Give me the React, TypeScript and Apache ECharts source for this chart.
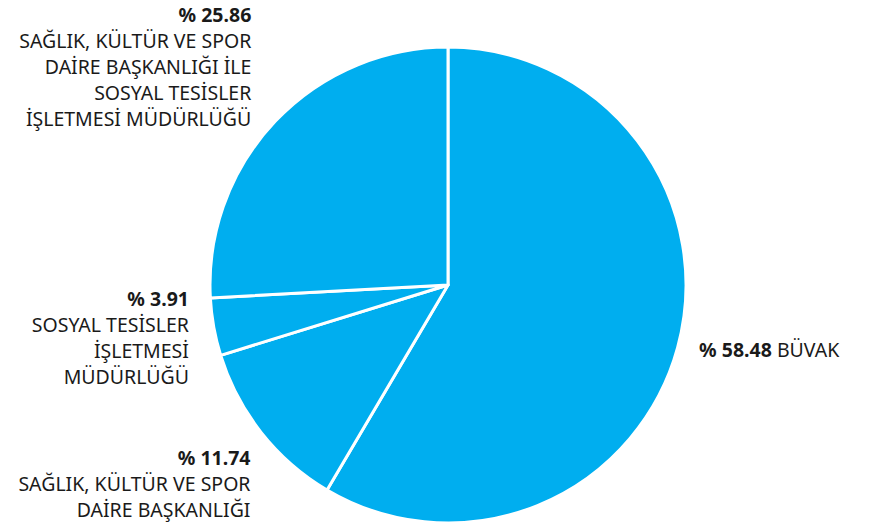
import React, { useEffect, useRef } from "react";
import * as echarts from "echarts";

const names = [
  "BÜVAK",
  "SAĞLIK, KÜLTÜR VE SPOR\nDAİRE BAŞKANLIĞI",
  "SOSYAL TESİSLER\nİŞLETMESİ\nMÜDÜRLÜĞÜ",
  "SAĞLIK, KÜLTÜR VE SPOR\nDAİRE BAŞKANLIĞI İLE\nSOSYAL TESİSLER\nİŞLETMESİ MÜDÜRLÜĞÜ",
];
const values = [58.48, 11.74, 3.91, 25.86];
const labelOffsets = [
  [-28, -2],
  [36, 42],
  [25, 8],
  [22, -45],
];

export default function App() {
  const ref = useRef<HTMLDivElement>(null);
  useEffect(() => {
    const chart = echarts.init(ref.current!, null, { renderer: "svg" });
    const font = "'Noto Sans', sans-serif";
    chart.setOption({
      animation: false,
      backgroundColor: "#ffffff",
      series: [
        {
          type: "pie",
          center: [448, 285],
          radius: 238,
          startAngle: 90,
          clockwise: true,
          data: names.map((n, i) => ({
            name: n,
            value: values[i],
            label:
              i === 0
                ? { formatter: (p: any) => `{b|% ${p.value.toFixed(2)}} {n|${p.name}}`, align: "left" }
                : {
                    formatter: (p: any) =>
                      `{b|% ${p.value.toFixed(2)}}\n` +
                      p.name
                        .split("\n")
                        .map((s: string) => `{n|${s}}`)
                        .join("\n"),
                    align: "right",
                  },
          })),
          itemStyle: { color: "#00aeef", borderColor: "#ffffff", borderWidth: 3 },
          label: {
            show: true,
            position: "outside",
            overflow: "none",
            fontFamily: font,
            fontSize: 19.5,
            lineHeight: 26,
            color: "#1a1a1a",
            rich: {
              b: { fontWeight: "bold", fontSize: 19.5, color: "#1a1a1a", lineHeight: 26, fontFamily: font },
              n: { fontSize: 19.5, color: "#1a1a1a", lineHeight: 26, fontFamily: font },
            },
          },
          labelLine: { show: false },
          labelLayout: (params: any) => {
            const o = labelOffsets[params.dataIndex];
            return { dx: o[0], dy: o[1] };
          },
        },
      ],
    });
    return () => chart.dispose();
  }, []);
  return <div ref={ref} style={{ position: "fixed", left: 0, top: 0, width: 877, height: 523 }} />;
}
